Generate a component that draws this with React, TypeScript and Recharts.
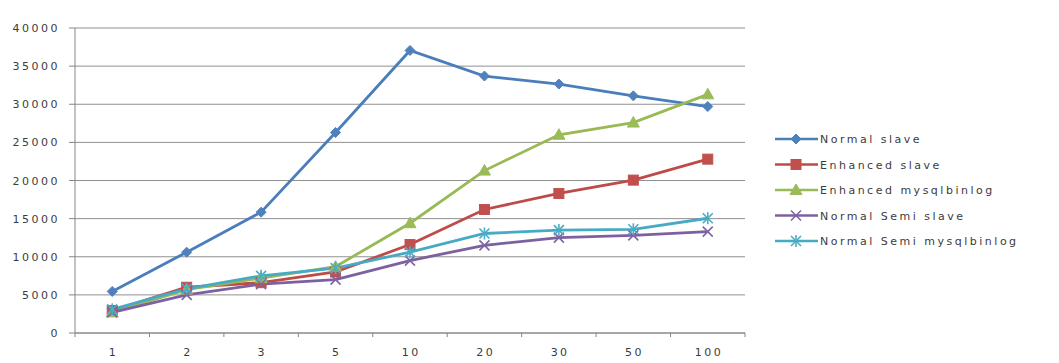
import React from 'react';
import { LineChart, Line, XAxis, YAxis, CartesianGrid } from 'recharts';

const categories = ['1', '2', '3', '5', '10', '20', '30', '50', '100'];
const normalSlave = [5450, 10600, 15850, 26300, 37050, 33700, 32650, 31100, 29700];
const enhancedSlave = [2950, 6000, 6600, 8000, 11600, 16200, 18300, 20050, 22800];
const enhancedBinlog = [2700, 5700, 7200, 8700, 14400, 21300, 26000, 27600, 31300];
const semiSlave = [2700, 5000, 6400, 7000, 9500, 11500, 12500, 12800, 13300];
const semiBinlog = [3100, 5800, 7500, 8500, 10600, 13050, 13500, 13600, 15050];
const yTicks = [0, 5000, 10000, 15000, 20000, 25000, 30000, 35000, 40000];

const seriesNames = [
  'Normal slave',
  'Enhanced slave',
  'Enhanced mysqlbinlog',
  'Normal Semi slave',
  'Normal Semi mysqlbinlog',
];

const FONT = '"DejaVu Sans", Verdana, sans-serif';
const TEXT = '#3c3c3c';
const AXIS = '#868686';

type Shape = 'diamond' | 'square' | 'triangle' | 'x' | 'star';

const series: { key: string; name: string; line: string; fill: string; shape: Shape; values: number[] }[] = [
  { key: 's0', name: seriesNames[0], line: '#4A7EBB', fill: '#4F81BD', shape: 'diamond', values: normalSlave },
  { key: 's1', name: seriesNames[1], line: '#BE4B48', fill: '#C0504D', shape: 'square', values: enhancedSlave },
  { key: 's2', name: seriesNames[2], line: '#98B954', fill: '#9BBB59', shape: 'triangle', values: enhancedBinlog },
  { key: 's3', name: seriesNames[3], line: '#7D60A0', fill: '#8064A2', shape: 'x', values: semiSlave },
  { key: 's4', name: seriesNames[4], line: '#46AAC5', fill: '#4BACC6', shape: 'star', values: semiBinlog },
];

const data = categories.map((c, i) => {
  const row: Record<string, number | string> = { x: i + 0.5, cat: c };
  series.forEach((s) => {
    row[s.key] = s.values[i];
  });
  return row;
});

const xTicks: number[] = [];
for (let i = 0; i <= categories.length * 2; i++) xTicks.push(i / 2);

function Marker({ cx, cy, shape, color }: { cx: number; cy: number; shape: Shape; color: string }) {
  if (cx == null || cy == null || isNaN(cx) || isNaN(cy)) return null;
  switch (shape) {
    case 'diamond':
      return <path d={`M${cx},${cy - 5} L${cx + 5},${cy} L${cx},${cy + 5} L${cx - 5},${cy} Z`} fill={color} stroke={color} strokeWidth={1} />;
    case 'square':
      return <rect x={cx - 5} y={cy - 5} width={10} height={10} fill={color} stroke={color} strokeWidth={1} />;
    case 'triangle':
      return <path d={`M${cx},${cy - 6} L${cx + 6},${cy + 4.5} L${cx - 6},${cy + 4.5} Z`} fill={color} stroke={color} strokeWidth={1} />;
    case 'x':
      return (
        <g stroke={color} strokeWidth={1.6}>
          <line x1={cx - 5} y1={cy - 5} x2={cx + 5} y2={cy + 5} />
          <line x1={cx - 5} y1={cy + 5} x2={cx + 5} y2={cy - 5} />
        </g>
      );
    case 'star':
      return (
        <g stroke={color} strokeWidth={1.6}>
          <line x1={cx - 5} y1={cy - 5} x2={cx + 5} y2={cy + 5} />
          <line x1={cx - 5} y1={cy + 5} x2={cx + 5} y2={cy - 5} />
          <line x1={cx} y1={cy - 6} x2={cx} y2={cy + 6} />
        </g>
      );
  }
  return null;
}

const XTick = (props: any) => {
  const { x, y, payload } = props;
  const v = payload.value as number;
  if (Number.isInteger(v)) {
    return <line x1={x} y1={y} x2={x} y2={y + 4} stroke={AXIS} strokeWidth={1} />;
  }
  const idx = Math.floor(v);
  return (
    <text x={x + 1.25} y={y + 23} textAnchor="middle" fill={TEXT} fontSize={11} fontFamily={FONT} style={{ letterSpacing: '2.5px' }}>
      {categories[idx]}
    </text>
  );
};

const YTick = (props: any) => {
  const { x, y, payload } = props;
  return (
    <text x={x} y={y + 4} textAnchor="end" fill={TEXT} fontSize={11} fontFamily={FONT} style={{ letterSpacing: '2.5px' }}>
      {payload.value}
    </text>
  );
};

function LegendBox() {
  return (
    <svg width={270} height={140} style={{ position: 'absolute', left: 770, top: 126 }}>
      {series.map((s, i) => {
        const cy = 13 + i * 25.5;
        return (
          <g key={s.key}>
            <line x1={5} y1={cy} x2={48} y2={cy} stroke={s.line} strokeWidth={2.5} />
            <Marker cx={26} cy={cy} shape={s.shape} color={s.fill} />
            <text x={50} y={cy + 4} fill={TEXT} fontSize={11} fontFamily={FONT} style={{ letterSpacing: '2.5px' }}>
              {s.name}
            </text>
          </g>
        );
      })}
    </svg>
  );
}

export default function App() {
  return (
    <div style={{ position: 'absolute', left: 0, top: 0, width: 1059, height: 363, background: '#fff' }}>
      <LineChart width={1059} height={363} data={data} margin={{ top: 28, right: 314, bottom: 0, left: 0 }}>
        <CartesianGrid horizontal vertical={false} stroke="#909090" strokeWidth={1} />
        <XAxis
          dataKey="x"
          type="number"
          domain={[0, categories.length]}
          ticks={xTicks}
          interval={0}
          tickSize={0}
          tickMargin={0}
          height={30}
          axisLine={{ stroke: AXIS }}
          tickLine={false}
          tick={<XTick />}
          allowDecimals
        />
        <YAxis
          type="number"
          domain={[0, 40000]}
          ticks={yTicks}
          interval={0}
          width={75}
          tickSize={6}
          tickMargin={9}
          axisLine={{ stroke: AXIS }}
          tickLine={{ stroke: AXIS }}
          tick={<YTick />}
        />
        {series.map((s) => (
          <Line
            key={s.key}
            dataKey={s.key}
            name={s.name}
            stroke={s.line}
            strokeWidth={2.8}
            isAnimationActive={false}
            dot={(p: any) => <Marker key={`${s.key}-${p.index}`} cx={p.cx} cy={p.cy} shape={s.shape} color={s.fill} />}
            activeDot={false}
          />
        ))}
      </LineChart>
      <LegendBox />
    </div>
  );
}
